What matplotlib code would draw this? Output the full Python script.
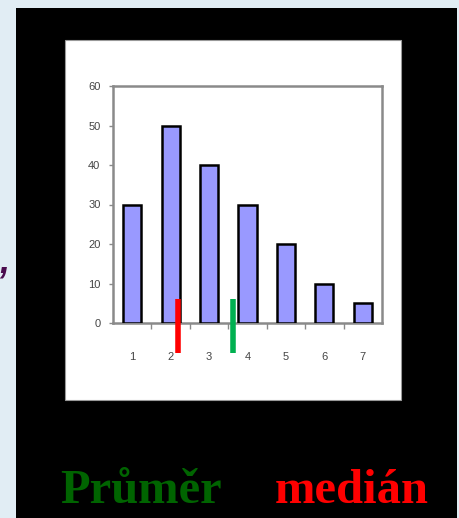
import matplotlib.pyplot as plt
from matplotlib.patches import Rectangle

# data
categories = [1, 2, 3, 4, 5, 6, 7]
values = [30, 50, 40, 30, 20, 10, 5]
y_ticks = [0, 10, 20, 30, 40, 50, 60]
mean_x = 3.63      # green marker (Průměr)
median_x = 2.19    # red marker (medián)
marker_span = (-7.5, 6)

W, H = 459, 518
fig = plt.figure(figsize=(W / 100, H / 100), dpi=100, facecolor="#e1edf4")

def px(x0, y0, x1, y1):
    # pixel box (top-left origin) -> figure fraction
    return [x0 / W, 1 - y1 / H, (x1 - x0) / W, (y1 - y0) / H]

# black slide panel and white chart card
b = px(16, 8, 457, 518)
fig.patches.append(Rectangle((b[0], b[1]), b[2], b[3], transform=fig.transFigure,
                             facecolor="black", edgecolor="none", zorder=0))
w = px(65, 40, 401, 400)
fig.patches.append(Rectangle((w[0], w[1]), w[2], w[3], transform=fig.transFigure,
                             facecolor="white", edgecolor="#999999", lw=0.8, zorder=1))

ax = fig.add_axes(px(113, 86, 382, 323))
ax.set_zorder(2)
ax.bar(categories, values, width=0.47, color="#9999ff", edgecolor="black", linewidth=1.8, zorder=3)

ax.set_xlim(0.5, 7.5)
ax.set_ylim(0, 60)
ax.set_yticks(y_ticks)
ax.set_xticks(categories)
ax.set_xticks([c + 0.5 for c in categories[:-1]], minor=True)

for s in ax.spines.values():
    s.set_color("#8a8a8a")
    s.set_linewidth(1.8)

ax.tick_params(axis="y", length=3, width=1, color="#8a8a8a", pad=6)
ax.tick_params(axis="x", which="major", length=0, pad=21)
ax.tick_params(axis="x", which="minor", length=4, width=1, color="#8a8a8a")
for t in ax.get_xticklabels() + ax.get_yticklabels():
    t.set_fontsize(8)
    t.set_color("#444444")
    t.set_family("Liberation Sans")

# median / mean markers, drawn past the axis
ax.plot([median_x, median_x], marker_span, color="#ff0000", lw=4, solid_capstyle="butt",
        clip_on=False, zorder=4)
ax.plot([mean_x, mean_x], marker_span, color="#00b050", lw=4, solid_capstyle="butt",
        clip_on=False, zorder=4)

fig.text(60 / W, 1 - 503 / H, "Průměr", color="#006400", fontsize=35, fontweight="bold",
         family="Liberation Serif", ha="left", va="baseline")
fig.text(275 / W, 1 - 503 / H, "medián", color="#ff0000", fontsize=35, fontweight="bold",
         family="Liberation Serif", ha="left", va="baseline")

# clipped comma from the slide text on the left edge
fig.text(-1 / W, 1 - 272 / H, ",", color="#4a0c4e", fontsize=26, fontweight="bold",
         style="italic", family="Liberation Sans", ha="left", va="baseline")

fig.savefig("out.png", dpi=100, facecolor=fig.get_facecolor())
